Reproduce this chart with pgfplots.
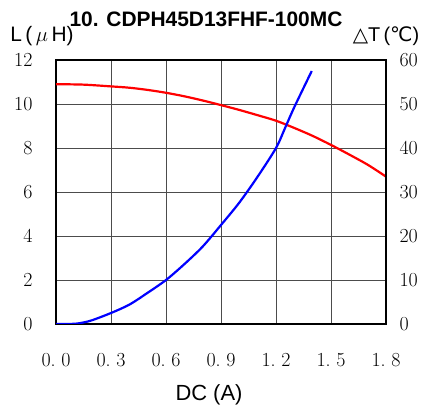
\documentclass[border=0pt]{standalone}
\usepackage{pgfplots}
\pgfplotsset{compat=1.18}
\usepackage{fontspec}
\newfontfamily\arial{Liberation Sans}
\newfontfamily\symfont{DejaVu Sans}

\newcommand{\tickfont}{\fontsize{20}{20}\selectfont}
\newcommand{\dd}[2]{#1.\hspace{0.28em}#2}
\pgfplotsset{
  chartbase/.style={
    scale only axis, width=330bp, height=264bp,
    xmin=0, xmax=1.8,
    tick style={draw=none},
    /pgf/number format/assume math mode=true,
  }
}

\begin{document}
\begin{tikzpicture}
\useasboundingbox (-56bp,-85bp) rectangle (372bp,324bp);
% inductance, left axis
\begin{axis}[
  chartbase,
  ymin=0, ymax=12,
  ytick={0,2,...,12},
  xtick={0,0.3,0.6,0.9,1.2,1.5,1.8},
  xticklabels={\dd00,\dd03,\dd06,\dd09,\dd12,\dd15,\dd18},
  xticklabel style={font=\tickfont, yshift=-26bp},
  yticklabel style={font=\tickfont, xshift=-20bp},
  grid=major,
  major grid style={draw=black!70, line width=0.9bp},
  axis line style={black, line width=1.1bp},
]
\addplot[smooth, red, line width=2.2bp] coordinates {
  (0.00, 10.90) (0.15, 10.88) (0.30, 10.80) (0.40, 10.74)
  (0.50, 10.64) (0.60, 10.51) (0.70, 10.35) (0.80, 10.16)
  (0.90, 9.95) (1.00, 9.73) (1.10, 9.49) (1.20, 9.24)
  (1.30, 8.91) (1.40, 8.55) (1.50, 8.14) (1.60, 7.70)
  (1.70, 7.24) (1.80, 6.70)
};
\end{axis}
% temperature rise, right axis
\begin{axis}[
  chartbase,
  ymin=0, ymax=60,
  ytick={0,10,...,60},
  axis x line=none,
  axis y line*=right,
  axis line style={black, line width=1.1bp},
  yticklabel style={font=\tickfont, xshift=10bp},
]
\addplot[smooth, blue, line width=2.2bp] coordinates {
  (0.00, 0.0) (0.10, 0.05) (0.15, 0.35) (0.20, 0.9) (0.30, 2.5)
  (0.40, 4.4) (0.50, 7.1) (0.60, 10.0) (0.70, 13.6) (0.80, 17.6)
  (0.90, 22.5) (1.00, 27.6) (1.10, 33.5) (1.20, 40.0) (1.25, 44.6)
  (1.30, 49.3) (1.395, 57.5)
};
\end{axis}
\node[font=\arial\fontsize{21}{21}\selectfont\bfseries] at (150bp,305bp) {10. CDPH45D13FHF-100MC};
\node[font=\arial\fontsize{21}{21}\selectfont] at (-14bp,288bp) {L\,(\,$\mu$\,H)};
\node[font=\arial\fontsize{20}{20}\selectfont] at (330bp,288bp) {{\symfont △}T\,({\symfont ℃})};
\node[font=\arial\fontsize{22}{22}\selectfont] at (153bp,-71bp) {DC (A)};
\end{tikzpicture}
\end{document}
